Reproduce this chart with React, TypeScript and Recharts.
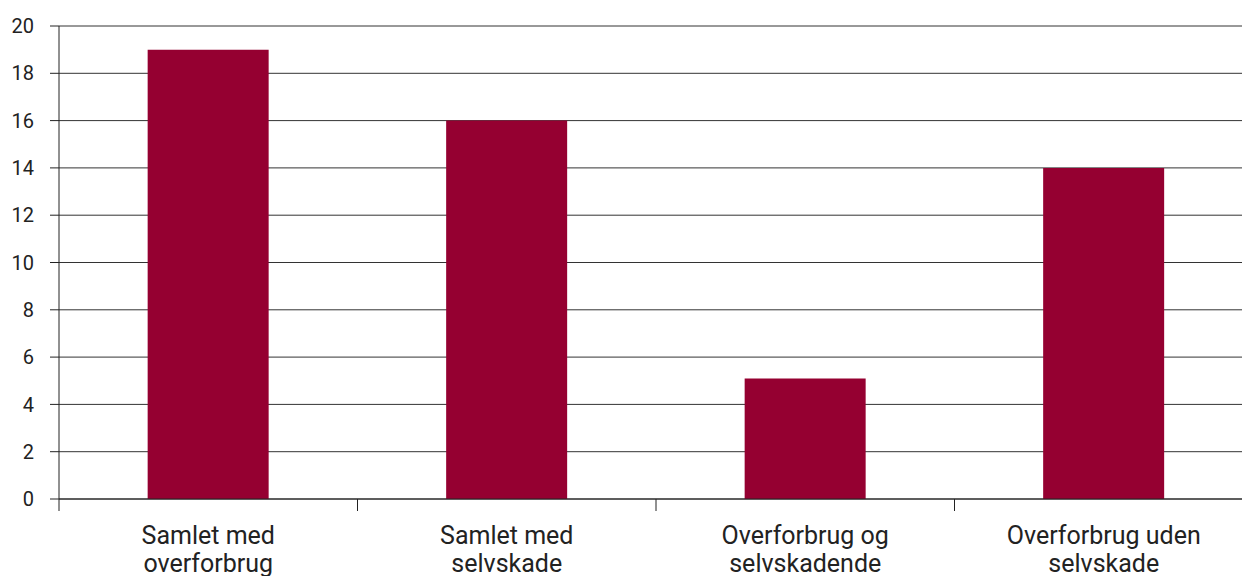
import React from "react";
import { BarChart, Bar, XAxis, YAxis, CartesianGrid } from "recharts";

const categories = [
  "Samlet med\noverforbrug",
  "Samlet med\nselvskade",
  "Overforbrug og\nselvskadende",
  "Overforbrug uden\nselvskade",
];
const values = [19, 16, 5.1, 14];
const yTicks = [0, 2, 4, 6, 8, 10, 12, 14, 16, 18, 20];

const data = categories.map((c, i) => ({ name: c, value: values[i] }));

const FONT = "Roboto, 'DejaVu Sans', sans-serif";

const XTick = (props: any) => {
  const { x, y, payload, width } = props;
  const band = width / categories.length;
  const lines = String(payload.value).split("\n");
  const left = x - band / 2;
  return (
    <g>
      <line x1={left} y1={y - 8} x2={left} y2={y + 4} stroke="#222" strokeWidth={1} />
      {lines.map((l: string, i: number) => (
        <text
          key={i}
          x={x}
          y={y + 37 + i * 28}
          textAnchor="middle"
          fill="#222"
          fontSize={25}
          fontFamily={FONT}
        >
          {l}
        </text>
      ))}
    </g>
  );
};

export default function App() {
  return (
    <div
      style={{
        position: "fixed",
        left: 0,
        top: 0,
        width: 1242,
        height: 576,
        overflow: "hidden",
        background: "#fff",
      }}
    >
      <BarChart
        width={1253}
        height={576}
        data={data}
        margin={{ top: 26, right: 0, bottom: 0, left: 0 }}
        barCategoryGap="29.7%"
      >
        <CartesianGrid vertical={false} stroke="#333" strokeWidth={1} />
        <XAxis
          dataKey="name"
          height={77}
          axisLine={{ stroke: "#222", strokeWidth: 1 }}
          tickLine={false}
          tick={<XTick />}
          interval={0}
        />
        <YAxis
          width={59}
          domain={[0, 20]}
          ticks={yTicks}
          interval={0}
          axisLine={{ stroke: "#222", strokeWidth: 1 }}
          tickLine={{ stroke: "#222" }}
          tickSize={9}
          tickMargin={16}
          tick={{ fill: "#222", fontSize: 20, fontFamily: FONT }}
        />
        <Bar dataKey="value" fill="#950031" isAnimationActive={false} />
      </BarChart>
    </div>
  );
}
